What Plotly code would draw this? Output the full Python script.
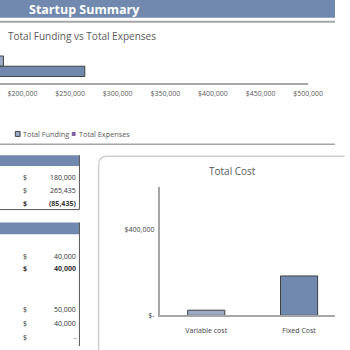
import plotly.graph_objects as go

# ---------------- data ----------------
summary_series = ["Total Funding", "Total Expenses"]
summary_values = [180000, 265435]
summary_ticks = [200000, 250000, 300000, 350000, 400000, 450000, 500000]

cost_categories = ["Variable cost", "Fixed Cost"]
cost_values = [24000, 184000]
cost_ticks = [0, 400000]
cost_ticktext = ["$-", "$400,000"]

table1_values = ["180,000", "265,435", "(85,435)"]
table1_bold = [False, False, True]
table2_values = ["40,000", "40,000", "", "", "50,000", "40,000", "-"]
table2_bold = [False, True, False, False, False, False, False]

# ---------------- styling ----------------
W = H = 350
HEAD = "#7189ae"
LIGHT = "#9aaac8"
DARK = "#7189ae"
PURPLE = "#7f5fa8"
GRAY_TXT = "#595959"
FONT = "Open Sans"


def X(px):
    return px / W


def Y(py):
    return 1 - py / H


fig = go.Figure()

# top horizontal bar chart (Funding on top)
bar_colors = [LIGHT, DARK]
for name, val, col in zip(summary_series, summary_values, bar_colors):
    fig.add_trace(go.Bar(
        x=[val], y=["Total"], name=name, orientation="h",
        marker=dict(color=col, line=dict(color="#404040", width=1)),
        xaxis="x", yaxis="y", showlegend=False,
    ))

# bottom vertical bar chart
fig.add_trace(go.Bar(
    x=cost_categories, y=cost_values, width=0.4,
    marker=dict(color=[LIGHT, DARK], line=dict(color="#404040", width=1)),
    xaxis="x2", yaxis="y2", showlegend=False,
))

shapes = []
annotations = []


def txt(text, x, y, size, color, anchor="left", bold=False):
    if bold:
        text = f"<b>{text}</b>"
    annotations.append(dict(text=text, x=X(x), y=Y(y), xref="paper", yref="paper",
                            xanchor=anchor, yanchor="middle", showarrow=False,
                            font=dict(family=FONT, size=size, color=color)))


# header band
shapes.append(dict(type="rect", xref="paper", yref="paper", x0=0, x1=1, y0=Y(18), y1=1,
                   fillcolor=HEAD, line=dict(width=0), layer="below"))
txt("Startup Summary", 28, 10, 12.5, "white", bold=True)
shapes.append(dict(type="line", xref="paper", yref="paper", x0=0, x1=1, y0=Y(22), y1=Y(22),
                   line=dict(color="#a6a6a6", width=2)))
txt("Total Funding vs Total Expenses", 6, 36, 10, GRAY_TXT)

# legend (manual)
shapes.append(dict(type="rect", xref="paper", yref="paper", x0=X(16), x1=X(21), y0=Y(138), y1=Y(133),
                   fillcolor=LIGHT, line=dict(color="#404040", width=1)))
txt("Total Funding", 22, 135.5, 7.3, GRAY_TXT)
shapes.append(dict(type="rect", xref="paper", yref="paper", x0=X(75), x1=X(79), y0=Y(137.5), y1=Y(133.5),
                   fillcolor=PURPLE, line=dict(width=0)))
txt("Total Expenses", 80.5, 135.5, 7.3, GRAY_TXT)
shapes.append(dict(type="line", xref="paper", yref="paper", x0=0, x1=1, y0=Y(146), y1=Y(146),
                   line=dict(color="#a6a6a6", width=1.5)))

# table 1
shapes.append(dict(type="rect", xref="paper", yref="paper", x0=0, x1=X(83), y0=Y(168), y1=Y(157),
                   fillcolor=HEAD, line=dict(width=0)))
shapes.append(dict(type="path", xref="paper", yref="paper",
                   path=f"M {X(0)},{Y(212)} L {X(83)},{Y(212)} L {X(83)},{Y(157)}",
                   line=dict(color="#595959", width=1)))
rows1 = [180, 193, 206]
for yy, v, b in zip(rows1, table1_values, table1_bold):
    txt("$", 22, yy, 7, "#333", bold=b)
    txt(v, 81.5, yy, 7, "#333", anchor="right", bold=b)

# table 2
shapes.append(dict(type="rect", xref="paper", yref="paper", x0=0, x1=X(83), y0=Y(237), y1=Y(225),
                   fillcolor=HEAD, line=dict(width=0)))
shapes.append(dict(type="line", xref="paper", yref="paper", x0=X(83), x1=X(83), y0=Y(225), y1=0,
                   line=dict(color="#595959", width=1)))
rows2 = [259, 272, 286, 300, 313, 327, 341]
for yy, v, b in zip(rows2, table2_values, table2_bold):
    if v == "":
        continue
    txt("$", 22, yy, 7, "#333", bold=b)
    txt(v, 81.5, yy, 7, "#333", anchor="right", bold=b)

# rounded panel for Total Cost
r = 9
shapes.append(dict(type="path", xref="paper", yref="paper",
                   path=(f"M {X(103)},{Y(360)} L {X(103)},{Y(158 + r)} "
                         f"Q {X(103)},{Y(158)} {X(103 + r)},{Y(158)} L {X(360)},{Y(158)}"),
                   line=dict(color="#d0d0d0", width=1.5), layer="below"))
txt("Total Cost", 243, 173, 10, GRAY_TXT, anchor="center")

fig.update_layout(
    width=W, height=H,
    margin=dict(l=0, r=0, t=0, b=0),
    paper_bgcolor="white", plot_bgcolor="rgba(0,0,0,0)",
    barmode="group", bargap=0.39, bargroupgap=0,
    shapes=shapes, annotations=annotations,
    showlegend=False,
    xaxis=dict(domain=[0, X(322)], range=[176400, 500000], tickvals=summary_ticks,
               tickformat="$,.0f", showgrid=False, zeroline=False, showline=True,
               linecolor="#a6a6a6", linewidth=1.5, ticks="", fixedrange=True, ticklabelstandoff=3,
               tickfont=dict(family=FONT, size=7, color=GRAY_TXT), anchor="y"),
    yaxis=dict(domain=[Y(84), Y(50)], autorange="reversed", showticklabels=False,
               showgrid=False, zeroline=False, showline=False, anchor="x"),
    xaxis2=dict(domain=[X(167), 1], range=[-0.5, 1.387], showgrid=False, zeroline=False,
                showline=True, linecolor="#a6a6a6", linewidth=1.5, ticks="", anchor="y2",
                ticklabelstandoff=7,
                tickfont=dict(family=FONT, size=7, color="#404040")),
    yaxis2=dict(domain=[Y(319), Y(189)], range=[0, 600000], tickvals=cost_ticks, ticktext=cost_ticktext,
                showgrid=False, zeroline=False, showline=True, linecolor="#a6a6a6", linewidth=2,
                ticks="", ticklabelstandoff=2, anchor="x2",
                tickfont=dict(family=FONT, size=7, color="#404040")),
)

fig.write_html("out.html")
